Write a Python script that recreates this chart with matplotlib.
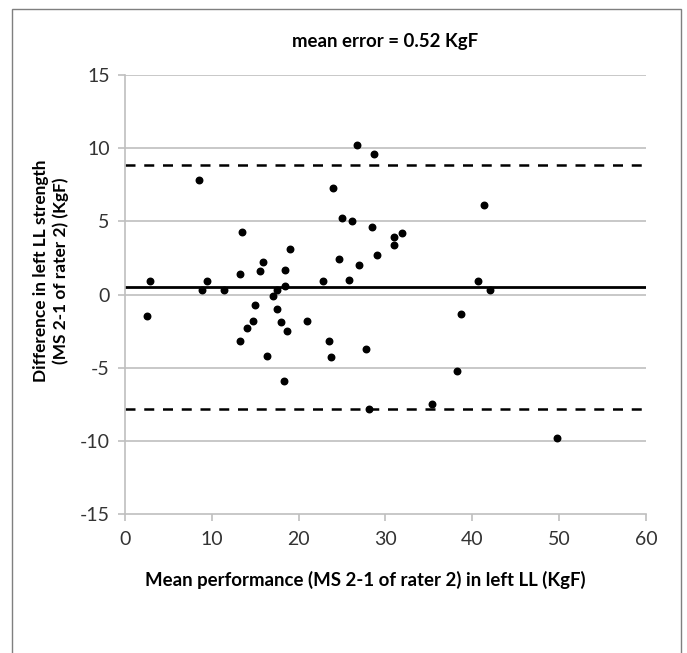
import numpy as np
import matplotlib
matplotlib.use("Agg")
import matplotlib.pyplot as plt
from matplotlib.patches import Rectangle

plt.rcParams['font.family'] = ['Lato', 'DejaVu Sans']
plt.rcParams['axes.unicode_minus'] = False

# mean of the two measurements (KgF)
mean_perf = [2.9, 2.5, 8.5, 8.9, 9.5, 11.4, 13.3, 13.5, 13.2, 14.1,
             15.0, 14.7, 15.5, 15.9, 16.3, 17.0, 17.5, 17.5, 18.0, 18.4,
             18.4, 18.6, 18.3, 19.0, 21.0, 22.8, 23.5, 23.7, 23.9, 24.6,
             25.0, 25.8, 26.1, 26.7, 26.9, 27.7, 28.1, 28.4, 28.7, 29.0,
             31.0, 31.0, 31.9, 35.4, 38.2, 38.7, 40.6, 41.3, 42.0, 49.8]
# difference between the two measurements (KgF)
diff = [0.9, -1.5, 7.8, 0.3, 0.9, 0.3, 1.4, 4.3, -3.2, -2.3,
        -0.7, -1.8, 1.6, 2.2, -4.2, -0.1, 0.3, -1.0, -1.9, 1.7,
        0.6, -2.5, -5.9, 3.1, -1.8, 0.9, -3.2, -4.3, 7.3, 2.4,
        5.2, 1.0, 5.0, 10.2, 2.0, -3.7, -7.8, 4.6, 9.6, 2.7,
        3.9, 3.4, 4.2, -7.5, -5.2, -1.3, 0.9, 6.1, 0.3, -9.8]

mean_error = 0.52
upper_loa = 8.85
lower_loa = -7.81

W, H = 687, 653
fig = plt.figure(figsize=(6.87, 6.53), dpi=100)
ax = fig.add_axes([125 / W, 1 - 514 / H, 521 / W, 439 / H])

grid_col = '#BFBFBF'
for yv in [-10, -5, 0, 5, 10, 15]:
    ax.axhline(yv, color=grid_col, lw=1.2, zorder=1)

ax.axhline(mean_error, color='black', lw=2, zorder=2)
ax.axhline(upper_loa, color='black', lw=1.8, ls=(0, (4, 3.5)), zorder=2)
ax.axhline(lower_loa, color='black', lw=1.8, ls=(0, (4, 3.5)), zorder=2)

ax.scatter(mean_perf, diff, s=22, color='black', zorder=3)

ax.set_xlim(0, 60)
ax.set_ylim(-15, 15)
ax.set_xticks(range(0, 61, 10))
ax.set_yticks(range(-15, 16, 5))

for s in ['top', 'right']:
    ax.spines[s].set_visible(False)
for s in ['left', 'bottom']:
    ax.spines[s].set_color(grid_col)
    ax.spines[s].set_linewidth(1.2)
ax.tick_params(axis='both', colors=grid_col, labelcolor='#333333',
               labelsize=14, length=5, width=1.2)
ax.tick_params(axis='x', pad=7)
ax.tick_params(axis='y', pad=6)

fig.text(385 / W, 1 - 41 / H, 'mean error = 0.52 KgF', fontsize=13.4,
         fontweight='bold', ha='center', va='center')
fig.text(365 / W, 1 - 580 / H,
         'Mean performance (MS 2-1 of rater 2) in left LL (KgF)',
         fontsize=13.4, fontweight='bold', ha='center', va='center')
fig.text(51 / W, 1 - 271 / H,
         'Difference in left LL strength\n(MS 2-1 of rater 2) (KgF)',
         fontsize=12.4, fontweight='bold', ha='center', va='center',
         rotation=90, linespacing=1.3)

# outer chart frame
fig.patches.append(Rectangle((12 / W, -0.05), 669 / W, 1.05 - 9.5 / H,
                             transform=fig.transFigure, fill=False,
                             edgecolor='#7F7F7F', lw=1))

fig.savefig('out.png', dpi=100)
